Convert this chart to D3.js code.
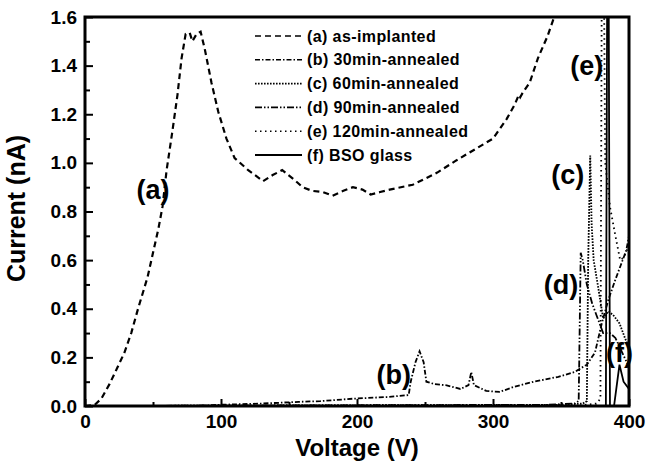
<!DOCTYPE html>
<html>
<head>
<meta charset="utf-8">
<script src="https://cdn.jsdelivr.net/npm/d3@7/dist/d3.min.js"></script>
<style>
    body { margin: 0; background: #fff; }
    text { font-family: "Liberation Sans", Arial, sans-serif; fill: #000; }
</style>
</head>
<body>
<div id="chart"></div>
<script>
// ---- data: [voltage (V), current (nA)] ----
var asImplanted = [[0,0],[7,0.004],[12,0.03],[18,0.09],[24,0.16],[29,0.22],[34,0.3],[39,0.4],[46,0.53],[50,0.63],
    [54,0.73],[57,0.82],[60,0.97],[64,1.12],[68,1.28],[71,1.43],[74,1.53],[77,1.535],[79,1.5],[82,1.53],[85,1.54],
    [88,1.47],[93,1.33],[98,1.21],[104,1.1],[110,1.02],[120,0.97],[131,0.925],[138,0.95],[145,0.97],[154,0.93],
    [160,0.9],[167,0.885],[175,0.88],[182,0.865],[190,0.885],[197,0.9],[204,0.89],[210,0.87],[217,0.88],[224,0.89],
    [241,0.91],[259,0.96],[273,1.01],[288,1.06],[300,1.1],[310,1.18],[316,1.24],[319,1.28],[320,1.27],[322,1.29],
    [327,1.33],[333,1.43],[340,1.52],[345,1.6],[348,1.66]];
var annealed30 = [[0,0],[80,0],[100,0.005],[130,0.01],[157,0.017],[173,0.02],[197,0.03],[222,0.037],[238,0.045],
    [239.5,0.1],[243,0.18],[246,0.225],[249,0.18],[251,0.1],[257,0.09],[266,0.085],[276,0.07],[282,0.086],[284,0.14],
    [286,0.086],[295,0.062],[305,0.058],[315,0.078],[330,0.1],[348,0.12],[360,0.14],[369,0.17],[375,0.22],[380,0.34],
    [385,0.44],[390,0.52],[394,0.58],[398,0.64],[400,0.7]];
var annealed60 = [[0,0],[350,0.005],[366,0.01],[369,0.02],[370,0.6],[371.5,1.03],[372.5,0.75],[374,0.6],[377,0.5],
    [381,0.36],[385,0.39],[389,0.37],[393,0.34],[397,0.28],[400,0.24]];
var annealed90 = [[0,0],[340,0.005],[360,0.01],[363,0.02],[364.5,0.63],[366,0.6],[369,0.5],[373,0.42],[377,0.36],
    [381,0.3],[386,0.3],[390,0.28],[395,0.22],[400,0.16]];
var annealed120 = [[0,0],[360,0],[376,0.01],[379,0.03],[380,1.8],[381.5,1.8],[382.5,1.0],[386,0.82],[390,0.7],
    [393.5,0.6],[396,0.61],[400,0.66]];
var bsoGlass = [[0,0],[383,0],[384,1.8],[385,1.8],[386,0],[389,0],[393,0.17],[396,0.1],[400,0.07]];

var legendNames = ["(a) as-implanted", "(b) 30min-annealed", "(c) 60min-annealed",
    "(d) 90min-annealed", "(e) 120min-annealed", "(f) BSO glass"];
var curveTags = ["(a)", "(b)", "(c)", "(d)", "(e)", "(f)"];
var tagSpots = [[50, 0.89], [227, 0.13], [355, 0.95], [350, 0.5], [369, 1.4], [393, 0.22]];

var xTicks = [0, 100, 200, 300, 400];
var yTicks = [0.0, 0.2, 0.4, 0.6, 0.8, 1.0, 1.2, 1.4, 1.6];

var allSeries = [asImplanted, annealed30, annealed60, annealed90, annealed120, bsoGlass];
var dashes = ["6,4", "5,2,1.5,2", "1.6,1.4", "7,2,1.5,2,1.5,2", "1.5,3.5", null];

LineChart = function(_parentElement){
    this.parentElement = _parentElement;
    this.initVis();
}

LineChart.prototype.initVis = function(){
    var vis = this;

    vis.margin = {top: 17, right: 29, bottom: 60, left: 85};
    vis.width = 658 - vis.margin.left - vis.margin.right;
    vis.height = 466 - vis.margin.top - vis.margin.bottom;

    vis.svg = d3.select("#" + vis.parentElement).append("svg")
        .attr("width", 658)
        .attr("height", 466)
        .append("g")
        .attr("transform", "translate(" + vis.margin.left + "," + vis.margin.top + ")");

    vis.x = d3.scaleLinear().domain([0, 400]).range([0, vis.width]);
    vis.y = d3.scaleLinear().domain([0, 1.6]).range([vis.height, 0]);

    vis.svg.append("defs").append("clipPath").attr("id", "clip")
        .append("rect").attr("width", vis.width).attr("height", vis.height);

    vis.updateVis();
};

LineChart.prototype.updateVis = function(){
    var vis = this;

    // minor ticks
    vis.svg.append("g")
        .attr("transform", "translate(0," + vis.height + ")")
        .call(d3.axisBottom(vis.x).tickValues(d3.range(50, 400, 100)).tickSize(-4).tickFormat(""))
        .call(function(g){ g.select(".domain").remove(); g.selectAll("line").attr("stroke-width", 2); });
    vis.svg.append("g")
        .call(d3.axisLeft(vis.y).tickValues(d3.range(0.1, 1.6, 0.2)).tickSize(-5).tickFormat(""))
        .call(function(g){ g.select(".domain").remove(); g.selectAll("line").attr("stroke-width", 2); });

    // major ticks + labels
    vis.svg.append("g")
        .attr("transform", "translate(0," + vis.height + ")")
        .call(d3.axisBottom(vis.x).tickValues(xTicks).tickSize(-7).tickPadding(9).tickFormat(d3.format("d")))
        .call(function(g){
            g.select(".domain").remove();
            g.selectAll("line").attr("stroke-width", 2);
            g.selectAll("text").style("font-size", "19px").style("font-weight", "bold");
        });
    vis.svg.append("g")
        .call(d3.axisLeft(vis.y).tickValues(yTicks).tickSize(-8).tickPadding(8).tickFormat(d3.format(".1f")))
        .call(function(g){
            g.select(".domain").remove();
            g.selectAll("line").attr("stroke-width", 2);
            g.selectAll("text").style("font-size", "19px").style("font-weight", "bold");
        });

    // curves
    vis.line = d3.line()
        .x(function(d){ return vis.x(d[0]); })
        .y(function(d){ return vis.y(d[1]); });

    vis.svg.append("g").attr("clip-path", "url(#clip)")
        .selectAll("path")
        .data(allSeries)
        .enter().append("path")
        .attr("d", vis.line)
        .attr("fill", "none")
        .attr("stroke", "#000")
        .attr("stroke-width", function(d, i){ return i == 0 ? 2.2 : 1.8; })
        .attr("stroke-dasharray", function(d, i){ return dashes[i]; });

    // frame
    vis.svg.append("rect")
        .attr("width", vis.width)
        .attr("height", vis.height)
        .attr("fill", "none")
        .attr("stroke", "#000")
        .attr("stroke-width", 3);

    // legend
    vis.legend = vis.svg.append("g").attr("transform", "translate(170,19)");
    vis.legend.selectAll("line")
        .data(legendNames)
        .enter().append("line")
        .attr("x1", 0).attr("x2", 47)
        .attr("y1", function(d, i){ return i * 23.8; })
        .attr("y2", function(d, i){ return i * 23.8; })
        .attr("stroke", "#000")
        .attr("stroke-width", function(d, i){ return i == 5 ? 2 : 1.6; })
        .attr("stroke-dasharray", function(d, i){ return dashes[i]; });
    vis.legend.selectAll("text")
        .data(legendNames)
        .enter().append("text")
        .attr("x", 52)
        .attr("y", function(d, i){ return i * 23.8; })
        .attr("dy", "0.35em")
        .style("font-size", "16px")
        .style("font-weight", "bold")
        .style("letter-spacing", "0.4px")
        .text(function(d){ return d; });

    // curve tags
    vis.svg.selectAll(".tag")
        .data(curveTags)
        .enter().append("text")
        .attr("class", "tag")
        .attr("x", function(d, i){ return vis.x(tagSpots[i][0]); })
        .attr("y", function(d, i){ return vis.y(tagSpots[i][1]); })
        .attr("dy", "0.35em")
        .attr("text-anchor", "middle")
        .style("font-size", "27px")
        .style("font-weight", "bold")
        .text(function(d){ return d; });

    // axis titles
    vis.svg.append("text")
        .attr("x", vis.width / 2)
        .attr("y", vis.height + 50)
        .attr("text-anchor", "middle")
        .style("font-size", "24px")
        .style("font-weight", "bold")
        .text("Voltage (V)");
    vis.svg.append("text")
        .attr("transform", "translate(-60," + (vis.height / 2 - 3) + ") rotate(-90)")
        .attr("text-anchor", "middle")
        .style("font-size", "25px")
        .style("font-weight", "bold")
        .text("Current (nA)");
};

var chart = new LineChart("chart");
</script>
</body>
</html>
